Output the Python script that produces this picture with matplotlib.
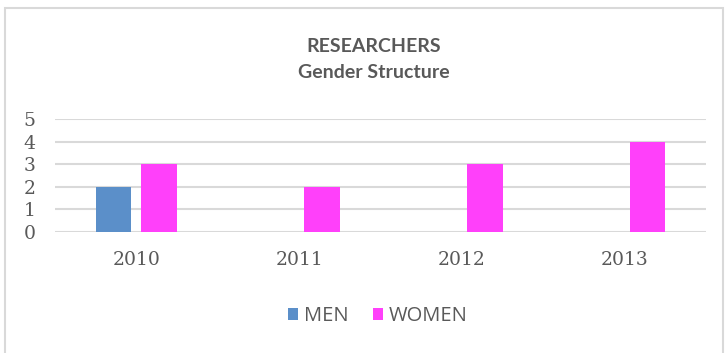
import matplotlib.pyplot as plt
from matplotlib.patches import Rectangle
import numpy as np

years = ['2010', '2011', '2012', '2013']
men = [2, 0, 0, 0]
women = [3, 2, 3, 4]

fig = plt.figure(figsize=(7.28, 3.53), dpi=100)
# chart frame
fig.patches.append(Rectangle((5/728, -0.01), 718/728, 1 - 8/353 + 0.01,
                             transform=fig.transFigure, fill=False,
                             edgecolor='#d9d9d9', lw=1.5))

ax = fig.add_axes([55/728, 1 - 232/353, 651/728, 113/353])
x = np.arange(len(years))
w = 0.22
ax.bar(x - 0.14, men, w, color='#5b8fc9', label='MEN')
ax.bar(x + 0.14, women, w, color='#ff40fa', label='WOMEN')

ax.set_xlim(-0.5, 3.5)
ax.set_ylim(0, 5)
ax.set_yticks(range(6))
ax.yaxis.grid(True, color='#d9d9d9', lw=1.5)
ax.set_axisbelow(True)
for s in ax.spines.values():
    s.set_visible(False)
ax.tick_params(length=0)
ax.set_xticks(x)
ax.set_xticklabels(years)
for lab in ax.get_xticklabels() + ax.get_yticklabels():
    lab.set_family('DejaVu Serif')
    lab.set_fontsize(13.5)
    lab.set_color('#595959')
ax.tick_params(axis='x', pad=14)
ax.tick_params(axis='y', pad=14)

fig.text(374/728, 1 - 46/353, 'RESEARCHERS', ha='center', va='center',
         family='Lato', weight='bold', fontsize=14, color='#595959')
fig.text(374/728, 1 - 72/353, 'Gender Structure', ha='center', va='center',
         family='Lato', weight='bold', fontsize=14, color='#595959')

leg = fig.legend(loc='center', bbox_to_anchor=(378/728, 1 - 316/353), ncol=2,
                 frameon=False, handlelength=0.5, handleheight=0.5,
                 handletextpad=0.3, columnspacing=1.2,
                 prop={'family': 'Open Sans', 'size': 14.5})
for t in leg.get_texts():
    t.set_color('#595959')

fig.savefig('out.png', dpi=100)
